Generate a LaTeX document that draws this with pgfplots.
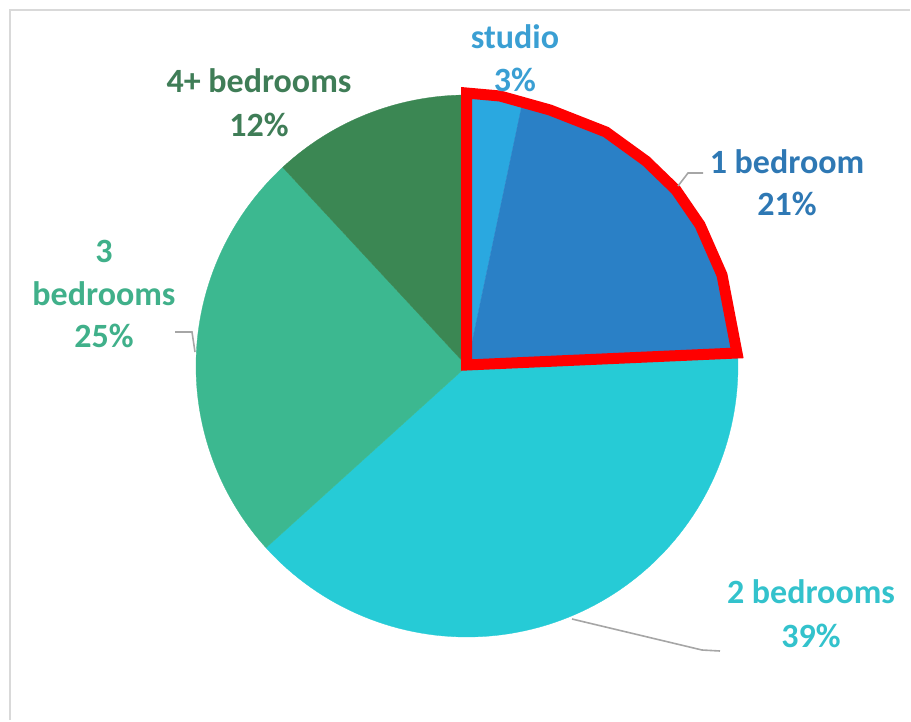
\documentclass[border=0pt]{standalone}
\usepackage{pgfplots}
\pgfplotsset{compat=1.18}
\usepackage{pgfplotstable}
\usepackage{fontspec}
\setmainfont{Carlito}

% slice colours
\definecolor{c0}{HTML}{2AA8E0}
\definecolor{c1}{HTML}{2A80C6}
\definecolor{c2}{HTML}{26CBD6}
\definecolor{c3}{HTML}{3CB890}
\definecolor{c4}{HTML}{3B8753}
% label colours
\definecolor{l0}{HTML}{3A9FD3}
\definecolor{l1}{HTML}{2E78B4}
\definecolor{l2}{HTML}{33C2CC}
\definecolor{l3}{HTML}{40B08A}
\definecolor{l4}{HTML}{3F7D57}
\definecolor{leader}{HTML}{A6A6A6}

% share of units, clockwise from the top
\pgfplotstableread{
label value
studio 3.3
1bed 20.9
2bed 39.1
3bed 24.8
4bed 11.9
}\pietable

\tikzset{lab/.style={font=\bfseries\fontsize{34}{43}\selectfont, anchor=base}}

\begin{document}
\begin{tikzpicture}
\begin{axis}[
    scale only axis,
    width=911pt, height=721pt,
    xmin=0, xmax=911,
    ymin=0, ymax=721,
    y dir=reverse,
    hide axis,
    clip=false,
    ]

    % keep the whole canvas in the bounding box
    \path (rel axis cs:0,0) rectangle (rel axis cs:1,1);

    % frame
    \addplot[draw=black!15, line width=2pt] coordinates {(10,720) (10,10) (910,10)};

    % wedges
    \gdef\cum{0}
    \pgfplotsinvokeforeach{0,...,4}{
        \pgfplotstablegetelem{#1}{value}\of\pietable
        \pgfmathsetmacro\a{\cum*3.6}
        \pgfmathsetmacro\b{(\cum+\pgfplotsretval)*3.6}
        \pgfmathsetmacro\newcum{\cum+\pgfplotsretval}
        \xdef\cum{\newcum}
        \edef\temp{\noexpand\addplot[fill=c#1, draw=c#1, line width=0.3pt,
            domain=\a:\b, samples=90, variable=\noexpand\t]
            ({467+271*sin(\noexpand\t)},{366-271*cos(\noexpand\t)})
            -- (axis cs:467,366) -- cycle;}
        \temp
    }

    % red highlight
    \addplot[draw=red, line width=11pt, line join=miter] coordinates {
        (466.5,365) (466.5,93) (500,96) (550,110) (606,132) (646,161)
        (676,190) (700,225) (722,275) (737,353)
    } -- cycle;

    % leader lines
    \addplot[draw=leader, line width=1.6pt] coordinates {(678,186) (688,173) (703,173)};
    \addplot[draw=leader, line width=1.6pt] coordinates {(572,619) (702,650) (720,651)};
    \addplot[draw=leader, line width=1.6pt] coordinates {(175,332) (192,332) (195,352)};

    % labels
    \node[lab, text=l0] at (axis cs:515,48) {studio};
    \node[lab, text=l0] at (axis cs:515,91) {3\%};
    \node[lab, text=l1] at (axis cs:787,173) {1 bedroom};
    \node[lab, text=l1] at (axis cs:787,215) {21\%};
    \node[lab, text=l2] at (axis cs:811,603) {2 bedrooms};
    \node[lab, text=l2] at (axis cs:811,647) {39\%};
    \node[lab, text=l3] at (axis cs:104,262) {3};
    \node[lab, text=l3] at (axis cs:104,305) {bedrooms};
    \node[lab, text=l3] at (axis cs:104,347) {25\%};
    \node[lab, text=l4] at (axis cs:259,92) {4+ bedrooms};
    \node[lab, text=l4] at (axis cs:259,136) {12\%};
\end{axis}
\end{tikzpicture}
\end{document}
